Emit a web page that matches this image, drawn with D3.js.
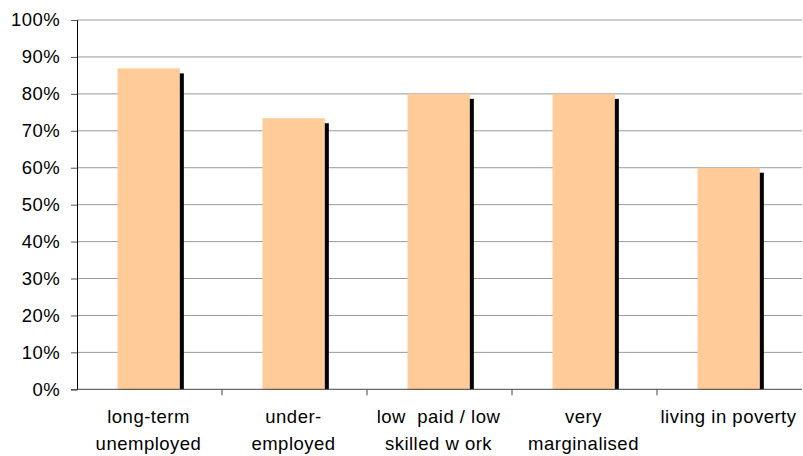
<!DOCTYPE html>
<html>
<head>
<meta charset="utf-8">
<script src="https://cdn.jsdelivr.net/npm/d3@7"></script>
<style>
  html, body { margin: 0; padding: 0; background: #fff; }
  svg { display: block; }
  text { font-family: "Liberation Sans", Arial, sans-serif; fill: #000; white-space: pre; }
</style>
</head>
<body>
<svg id="chart" width="803" height="456"></svg>
<script>
const categories = [
  ["long-term", "unemployed"],
  ["under-", "employed"],
  ["low  paid / low", "skilled w ork"],
  ["very", "marginalised"],
  ["living in poverty"]
];
const values = [0.869, 0.734, 0.80, 0.80, 0.60];
const yTicks = [0, 0.1, 0.2, 0.3, 0.4, 0.5, 0.6, 0.7, 0.8, 0.9, 1.0];

const svg = d3.select("#chart");
const margin = { left: 77, top: 20 };
const plotRight = 802;
const plotBottom = 389.3;

const ids = d3.range(categories.length);
const x = d3.scaleBand().domain(ids).range([margin.left, plotRight]).paddingInner(0.57).paddingOuter(0.285).align(0.49);
const xBand = d3.scaleBand().domain(ids).range([margin.left, plotRight]).padding(0);
const y = d3.scaleLinear().domain([0, 1]).range([plotBottom, margin.top]);

// gridlines
svg.append("g").selectAll("line").data(yTicks.filter(d => d > 0)).join("line")
  .attr("x1", margin.left).attr("x2", plotRight)
  .attr("y1", d => y(d)).attr("y2", d => y(d))
  .attr("stroke", "#9a9a9a").attr("stroke-width", 1);

// shadows
svg.append("g").selectAll("rect").data(values).join("rect")
  .attr("x", (d, i) => x(i) + 4)
  .attr("y", d => y(d) + 5)
  .attr("width", x.bandwidth())
  .attr("height", d => plotBottom - y(d) - 5)
  .attr("fill", "#000");

// bars
svg.append("g").selectAll("rect").data(values).join("rect")
  .attr("x", (d, i) => x(i))
  .attr("y", d => y(d))
  .attr("width", x.bandwidth())
  .attr("height", d => plotBottom - y(d))
  .attr("fill", "#FFCC99");

// y axis
const yAxis = d3.axisLeft(y).tickValues(yTicks).tickFormat(d3.format(".0%")).tickSize(6).tickPadding(11);
const gy = svg.append("g").attr("transform", `translate(${margin.left},0)`).call(yAxis);
gy.select(".domain").attr("stroke", "#000").attr("stroke-width", 1);
gy.selectAll(".tick line").attr("stroke", "#555");
gy.selectAll(".tick text").attr("font-size", 18.5).attr("letter-spacing", 0.4)
  .attr("font-family", "Liberation Sans, Arial, sans-serif");

// x axis
const gx = svg.append("g").attr("transform", `translate(0,${plotBottom})`);
gx.append("line").attr("x1", margin.left).attr("x2", plotRight).attr("y1", 0).attr("y2", 0)
  .attr("stroke", "#444").attr("stroke-width", 1);
gx.selectAll(".xtick").data(ids.slice(1)).join("line").attr("class", "xtick")
  .attr("x1", d => xBand(d)).attr("x2", d => xBand(d))
  .attr("y1", 0).attr("y2", 6).attr("stroke", "#444");

const labels = gx.selectAll(".xlabel").data(categories).join("text").attr("class", "xlabel")
  .attr("text-anchor", "middle").attr("font-size", 18.5).attr("letter-spacing", 0.5)
  .attr("transform", (d, i) => `translate(${xBand(i) + xBand.bandwidth() / 2 - 1},0)`);
labels.selectAll("tspan").data(d => d).join("tspan")
  .attr("x", 0).attr("y", (d, j) => 34 + j * 26.7)
  .text(d => d);
</script>
</body>
</html>
